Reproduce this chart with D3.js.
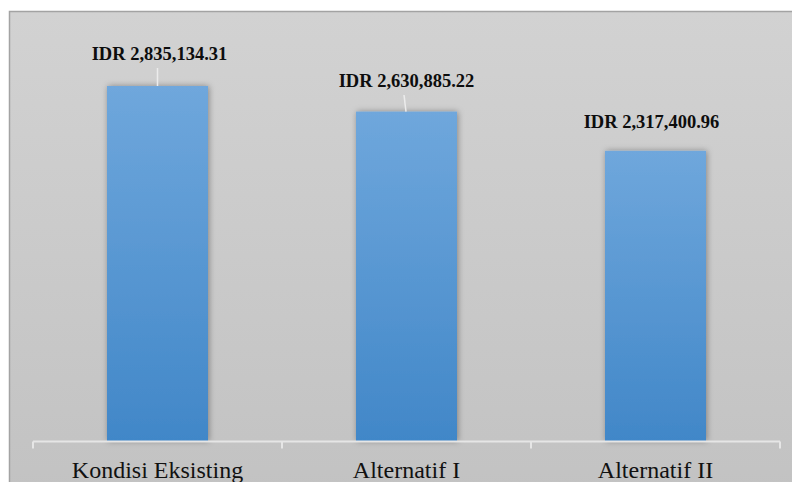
<!DOCTYPE html>
<html>
<head>
<meta charset="utf-8">
<script src="https://cdn.jsdelivr.net/npm/d3@7"></script>
<style>
  html, body { margin: 0; padding: 0; background: #fff; }
  svg { display: block; }
  .serif { font-family: "Liberation Serif", "Times New Roman", Times, "DejaVu Serif", serif; }
</style>
</head>
<body>
<script>
const categories = ["Kondisi Eksisting", "Alternatif I", "Alternatif II"];
const values = [2835134.31, 2630885.22, 2317400.96];
const valueLabels = ["IDR 2,835,134.31", "IDR 2,630,885.22", "IDR 2,317,400.96"];

const W = 792, H = 482;
const svg = d3.select("body").append("svg").attr("width", W).attr("height", H);
const defs = svg.append("defs");

const bg = defs.append("linearGradient").attr("id", "bg").attr("x1", 0).attr("y1", 0).attr("x2", 0).attr("y2", 1);
bg.append("stop").attr("offset", "0%").attr("stop-color", "#d2d2d2");
bg.append("stop").attr("offset", "100%").attr("stop-color", "#c2c2c2");

const bar = defs.append("linearGradient").attr("id", "bar").attr("x1", 0).attr("y1", 0).attr("x2", 0).attr("y2", 1);
bar.append("stop").attr("offset", "0%").attr("stop-color", "#6fa7dc");
bar.append("stop").attr("offset", "100%").attr("stop-color", "#4187c8");

const sh = defs.append("filter").attr("id", "shadow").attr("x", "-20%").attr("y", "-5%").attr("width", "140%").attr("height", "110%");
sh.append("feDropShadow").attr("dx", 1).attr("dy", 0).attr("stdDeviation", 3)
  .attr("flood-color", "#000").attr("flood-opacity", 0.35);

// chart frame (extends past window right/bottom)
svg.append("rect").attr("x", 9.5).attr("y", 11.5).attr("width", 800).attr("height", 490)
  .attr("fill", "url(#bg)").attr("stroke", "#a3a3a3").attr("stroke-width", 1.5);

const x = d3.scaleBand().domain(categories).range([33, 780]).padding(0);
const baseY = 441;
const y = d3.scaleLinear().domain([0, 3000000]).range([baseY, baseY - 355 * 3000000 / 2835134]);
const barW = 101;

const data = categories.map((c, i) => ({ c, v: values[i], label: valueLabels[i] }));

svg.append("g").selectAll("rect").data(data).join("rect")
  .attr("x", d => x(d.c) + x.bandwidth() / 2 - barW / 2)
  .attr("y", d => y(d.v))
  .attr("width", barW)
  .attr("height", d => baseY - y(d.v))
  .attr("fill", "url(#bar)")
  .attr("filter", "url(#shadow)");

// axis
const axis = d3.axisBottom(x).tickSize(0).tickFormat("");
const gAxis = svg.append("g").attr("transform", `translate(0,${baseY + 0.5})`).call(axis);
gAxis.select(".domain").remove();
gAxis.append("line").attr("x1", 33).attr("x2", 780).attr("y1", 0).attr("y2", 0)
  .attr("stroke", "#e6e6e6").attr("stroke-width", 2);
const edges = x.domain().map(c => x(c)).concat([x.range()[1]]);
gAxis.selectAll("line.tk").data(edges).join("line").attr("class", "tk")
  .attr("x1", d => d).attr("x2", d => d).attr("y1", 0).attr("y2", 7)
  .attr("stroke", "#e6e6e6").attr("stroke-width", 2);

svg.append("g").selectAll("text").data(categories).join("text")
  .attr("class", "serif")
  .attr("x", d => x(d) + x.bandwidth() / 2)
  .attr("y", 477.5)
  .attr("text-anchor", "middle")
  .style("font-size", "24px")
  .attr("fill", "#111")
  .text(d => d);

// data labels
const labelPos = [
  { dx: 2, y: 60, line: [[0, 68], [0, 86]] },
  { dx: 0, y: 87, line: [[-2.5, 95], [-0.5, 111]] },
  { dx: -4, y: 128, line: null }
];
const gl = svg.append("g");
data.forEach((d, i) => {
  const cx = x(d.c) + x.bandwidth() / 2;
  const p = labelPos[i];
  if (p.line) {
    gl.append("line")
      .attr("x1", cx + p.line[0][0]).attr("y1", p.line[0][1])
      .attr("x2", cx + p.line[1][0]).attr("y2", y(d.v))
      .attr("stroke", "#ececec").attr("stroke-width", 1.5);
  }
  gl.append("text")
    .attr("class", "serif")
    .attr("x", cx + p.dx).attr("y", p.y)
    .attr("text-anchor", "middle")
    .style("font-weight", "bold")
    .style("font-size", "18.5px")
    .attr("fill", "#0d0d0d")
    .text(d.label);
});
</script>
</body>
</html>
